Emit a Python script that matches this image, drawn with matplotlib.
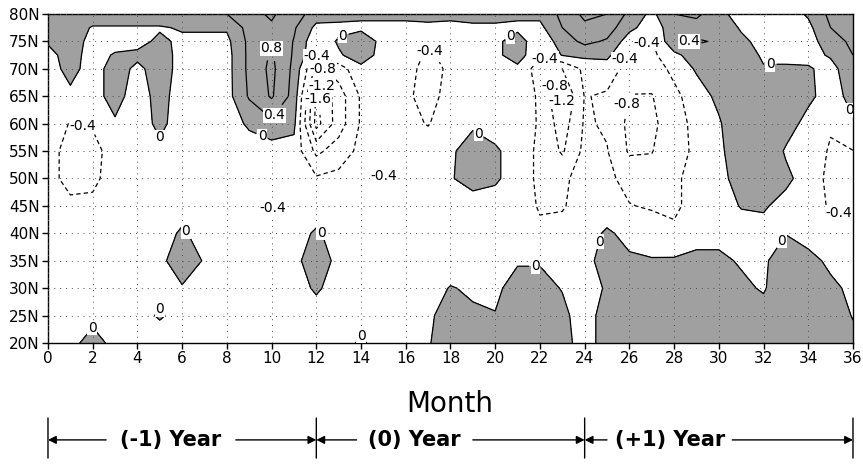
import matplotlib
matplotlib.use("Agg")
import matplotlib.pyplot as plt
import numpy as np

plt.rcParams["font.family"] = ["DejaVu Sans"]
plt.rcParams["axes.unicode_minus"] = False

# Month axis (columns) and latitude rows of the composite field
months = list(range(37))
lats = [80, 77.5, 75, 72.5, 70, 65, 60, 55, 50, 45, 40, 35, 30, 25, 20]

# values, one row per latitude, months 0..36
lat80 = [0.35, 0.35, 0.35, 0.35, 0.35, 0.35, 0.3, 0.3, 0.4, 0.7, 0.85, 0.6, 0.2, 0.15, 0.1, 0.1, 0.1, 0.15, 0.1,
         0.1, 0.1, 0.1, 0.1, 0.5, 0.9, 0.8, 0.3, -0.1, 0.4, 0.5, 0.1, -0.15, -0.2, -0.2, 0.05, 0.5, 0.7]
lat77 = [0.3, 0.3, -0.05, -0.05, -0.05, -0.05, 0.05, 0.05, 0.05, 0.55, 0.75, 0.45, -0.1, -0.1, -0.1, -0.1, -0.1,
         -0.1, -0.1, -0.05, -0.05, -0.1, -0.1, 0.4, 0.7, 0.6, 0.1, -0.2, 0.2, 0.2, 0.3, -0.05, -0.2, -0.2, -0.1,
         0.4, 0.6]
lat75 = [0.05, 0.3, -0.2, -0.2, -0.15, 0.1, -0.1, -0.1, -0.1, 0.5, 0.75, 0.38, -0.3, 0.05, 0.3, -0.15, -0.2, -0.3,
         -0.2, -0.15, -0.1, 0.2, -0.3, 0.2, 0.5, 0.35, -0.2, -0.42, 0.3, 0.45, 0.35, 0.1, -0.15, -0.15, -0.15, 0.2,
         0.5]
lat72 = [-0.15, 0.2, -0.2, 0.05, 0.1, 0.2, -0.15, -0.15, -0.15, 0.5, 0.85, 0.35, -0.35, -0.05, 0.2, -0.15, -0.25,
         -0.45, -0.3, -0.15, -0.1, 0.2, -0.35, 0.02, 0.1, 0.1, -0.45, -0.5, -0.1, 0.2, 0.35, 0.35, -0.1, -0.1, -0.15,
         0.05, 0.4]
lat70 = [-0.2, 0.15, -0.2, 0.2, -0.1, 0.2, -0.15, -0.15, -0.15, 0.5, 0.9, 0.3, -0.9, -0.6, -0.1, -0.15, -0.3, -0.5,
         -0.35, -0.15, -0.15, -0.1, -0.6, -0.8, -0.3, -0.2, -0.55, -0.6, -0.3, 0.05, 0.35, 0.3, 0.05, 0.05, 0.05,
         -0.15, 0.3]
lat65 = [-0.2, -0.1, -0.15, 0.15, -0.2, 0.15, -0.2, -0.15, -0.15, 0.45, 0.85, 0.25, -1.65, -1.0, -0.35, -0.15,
         -0.35, -0.5, -0.3, -0.15, -0.15, -0.2, -0.45, -1.25, -0.38, -0.45, -0.82, -0.82, -0.5, -0.2, 0.1, 0.35,
         0.35, 0.3, 0.1, -0.2, 0.15]
lat60 = [-0.2, -0.42, -0.35, -0.05, -0.2, 0.1, -0.2, -0.15, -0.15, 0.05, 0.3, 0.1, -1.75, -1.0, -0.35, -0.15, -0.3,
         -0.42, -0.2, -0.1, -0.15, -0.15, -0.45, -1.0, -0.35, -0.45, -0.9, -0.9, -0.55, -0.3, -0.05, 0.35, 0.35,
         0.2, -0.15, -0.35, -0.05]
lat55 = [-0.25, -0.55, -0.55, -0.2, -0.15, -0.1, -0.15, -0.15, -0.15, -0.15, -0.2, -0.15, -0.9, -0.6, -0.3, -0.2,
         -0.2, -0.2, -0.1, 0.3, 0.05, -0.15, -0.5, -0.85, -0.3, -0.38, -0.85, -0.82, -0.5, -0.35, -0.1, 0.3, 0.35,
         -0.05, -0.15, -0.45, -0.41]
lat50 = [-0.25, -0.55, -0.5, -0.2, -0.15, -0.15, -0.15, -0.15, -0.15, -0.15, -0.15, -0.2, -0.35, -0.3, -0.3, -0.42,
         -0.15, -0.15, -0.05, 0.25, 0.05, -0.15, -0.5, -0.5, -0.2, -0.3, -0.55, -0.6, -0.45, -0.3, -0.15, 0.2, 0.3,
         0.1, -0.2, -0.5, -0.45]
lat45 = [-0.2, -0.3, -0.3, -0.15, -0.15, -0.15, -0.15, -0.15, -0.15, -0.15, -0.43, -0.2, -0.2, -0.2, -0.2, -0.15,
         -0.15, -0.15, -0.15, -0.3, -0.15, -0.15, -0.45, -0.45, -0.15, -0.2, -0.38, -0.45, -0.45, -0.3, -0.15, 0.02,
         0.05, -0.15, -0.2, -0.45, -0.42]
lat40 = [-0.15, -0.15, -0.15, -0.1, -0.1, -0.15, 0.05, -0.15, -0.15, -0.15, -0.2, -0.15, 0.05, -0.15, -0.15, -0.15,
         -0.15, -0.15, -0.15, -0.15, -0.15, -0.15, -0.3, -0.2, -0.15, 0.05, -0.1, -0.15, -0.35, -0.15, -0.15, -0.15,
         -0.15, -0.02, -0.2, -0.3, -0.2]
lat35 = [-0.15, -0.15, -0.15, -0.1, -0.1, -0.15, 0.35, -0.05, -0.15, -0.15, -0.15, -0.15, 0.3, -0.15, -0.15, -0.15,
         -0.15, -0.15, -0.2, -0.15, -0.15, -0.05, -0.05, -0.15, -0.15, 0.2, 0.05, 0.02, 0.05, 0.1, 0.1, -0.05, -0.1,
         0.35, 0.15, -0.1, -0.2]
lat30 = [-0.15, -0.15, -0.15, -0.1, -0.1, -0.1, -0.05, -0.15, -0.15, -0.15, -0.15, -0.15, 0.05, -0.15, -0.15, -0.15,
         -0.15, -0.15, 0.02, -0.05, -0.1, 0.2, 0.2, -0.03, -0.2, 0.05, 0.3, 0.3, 0.3, 0.3, 0.3, 0.1, -0.05, 0.35,
         0.3, 0.1, -0.1]
lat25 = [-0.15, -0.15, -0.15, -0.1, -0.1, 0.03, -0.1, -0.15, -0.15, -0.15, -0.15, -0.15, -0.15, -0.15, -0.15, -0.15,
         -0.15, -0.1, 0.25, 0.05, 0.02, 0.3, 0.3, 0.15, -0.3, 0.3, 0.35, 0.35, 0.35, 0.35, 0.35, 0.35, 0.2, 0.35,
         0.35, 0.2, -0.02]
lat20 = [-0.15, -0.15, 0.2, -0.15, -0.15, -0.15, -0.15, -0.15, -0.15, -0.15, -0.15, -0.15, -0.15, -0.15, 0.05, -0.15,
         -0.15, -0.05, 0.35, 0.3, 0.3, 0.35, 0.35, 0.25, -0.3, 0.3, 0.35, 0.35, 0.35, 0.35, 0.35, 0.35, 0.3, 0.35,
         0.35, 0.3, 0.1]

levels = [-1.6, -1.2, -0.8, -0.4, 0, 0.4, 0.8]
lat_ticks = [20, 25, 30, 35, 40, 45, 50, 55, 60, 65, 70, 75, 80]
lat_labels = ["20N", "25N", "30N", "35N", "40N", "45N", "50N", "55N", "60N", "65N", "70N", "75N", "80N"]
month_ticks = list(range(0, 37, 2))
year_names = ["(-1) Year", "(0) Year", "(+1) Year"]
year_bounds = [0, 12, 24, 36]

# where the contour labels sit (style only)
label_spots = [
    (1.8, 23.3), (5.0, 56.5), (6.2, 40.5), (5.1, 26.5), (1.6, 60.0), (10.2, 74.0),
    (10.3, 61.0), (9.6, 58.0), (10.2, 44.0), (12.3, 40.5), (14.1, 21.5), (11.9, 73.0),
    (12.3, 70.0), (12.4, 67.5), (12.3, 64.5), (13.2, 75.5), (17.1, 73.5), (15.0, 52.0),
    (19.3, 58.5), (20.6, 76.5), (21.8, 34.5), (22.2, 71.5), (22.6, 67.0), (22.9, 64.0),
    (24.6, 38.5), (26.2, 63.5), (26.8, 74.5), (25.7, 72.0), (28.6, 74.5), (32.3, 69.5),
    (32.5, 39.5), (35.4, 43.0), (35.6, 62.0),
]

field = np.array([lat80, lat77, lat75, lat72, lat70, lat65, lat60, lat55, lat50, lat45,
                  lat40, lat35, lat30, lat25, lat20])

fig = plt.figure(figsize=(8.63, 4.66), dpi=100)
ax = fig.add_axes([0.0556, 0.264, 0.9328, 0.706])

ax.contourf(months, lats, field, levels=[0, 5], colors=["#a0a0a0"], zorder=1)
dash = (0, (3.5, 2.5))
styles = [dash if lv < 0 else "solid" for lv in levels]
cs = ax.contour(months, lats, field, levels=levels, colors="k", linewidths=0.9,
                linestyles=styles, zorder=2)
texts = ax.clabel(cs, fmt="%g", fontsize=10, inline=True, inline_spacing=2,
                  manual=label_spots)
for t in texts:
    # labels in the original are upright on a white patch
    t.set_rotation(0)
    t.set_bbox(dict(facecolor="white", edgecolor="none", pad=0.3))
    t.set_zorder(4)

ax.set_xlim(0, 36)
ax.set_ylim(20, 80)
ax.set_xticks(month_ticks)
ax.set_yticks(lat_ticks)
ax.set_yticklabels(lat_labels)
ax.tick_params(direction="out", length=4, width=1, labelsize=11, pad=2)
ax.grid(True, color="0.3", linestyle=(0, (1, 5)), linewidth=0.7)
ax.set_axisbelow(False)
for sp in ax.spines.values():
    sp.set_linewidth(1.0)

fig.text(0.521, 0.133, "Month", ha="center", va="center", fontsize=20)

# year brackets under the axis
row_y = 0.056
for xb in year_bounds:
    ax.annotate("", xy=(xb, 0.103), xytext=(xb, 0.017), xycoords=("data", "figure fraction"),
                textcoords=("data", "figure fraction"),
                arrowprops=dict(arrowstyle="-", lw=1.0, color="k", shrinkA=0, shrinkB=0),
                annotation_clip=False)
text_centers = [5.5, 16.4, 27.8]
half_widths = [2.9, 2.6, 2.8]
for name, xc, hw, x0, x1 in zip(year_names, text_centers, half_widths, year_bounds[:-1], year_bounds[1:]):
    ax.annotate(name, xy=(xc, row_y), xycoords=("data", "figure fraction"), ha="center", va="center",
                fontsize=15, fontweight="bold", annotation_clip=False)
    for xs, xe in [(xc - hw, x0), (xc + hw, x1)]:
        ax.annotate("", xy=(xe, row_y), xytext=(xs, row_y), xycoords=("data", "figure fraction"),
                    textcoords=("data", "figure fraction"),
                    arrowprops=dict(arrowstyle="-|>", lw=1.0, color="k", mutation_scale=12,
                                    shrinkA=0, shrinkB=0),
                    annotation_clip=False)

fig.savefig("out.png", dpi=100)
